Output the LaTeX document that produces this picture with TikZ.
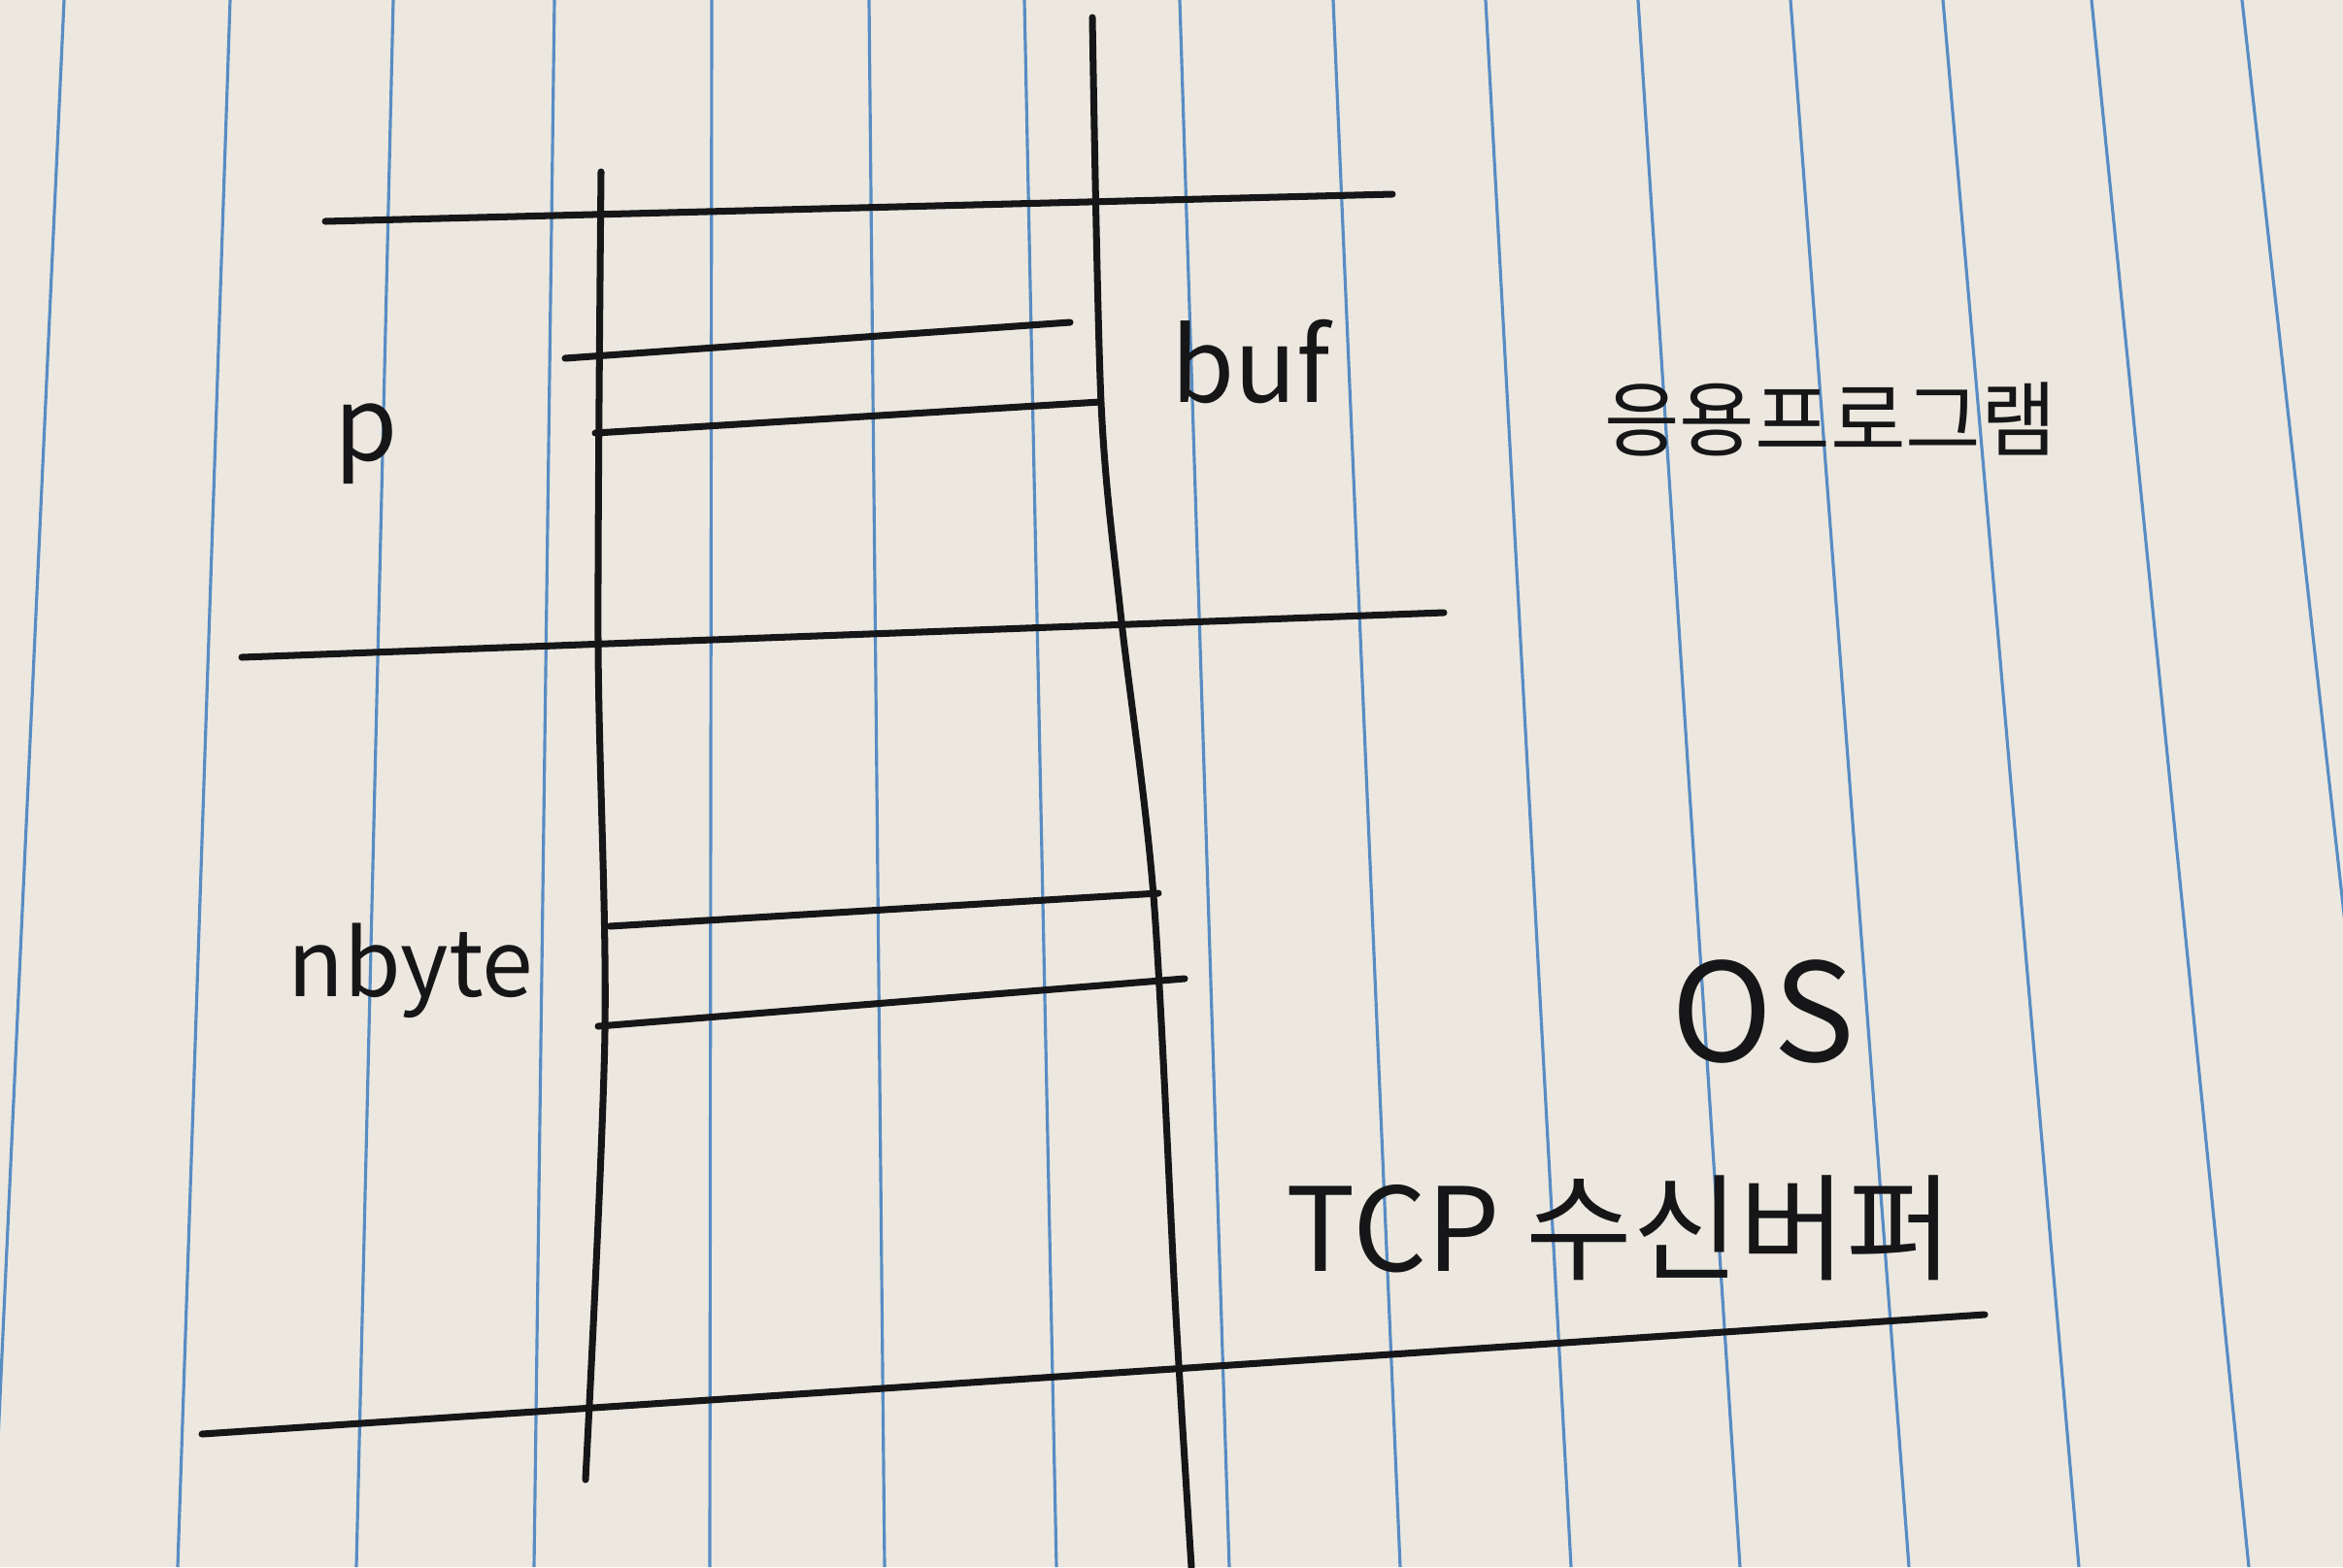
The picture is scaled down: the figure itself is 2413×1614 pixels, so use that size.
\documentclass[tikz,border=0pt]{standalone}
\usepackage{fontspec}
\newfontfamily\krfont{Noto Sans CJK KR}
\definecolor{paper}{RGB}{236,232,223}
\definecolor{ruleblue}{RGB}{88,140,196}
\definecolor{ink}{RGB}{22,22,24}
\tikzstyle{pen} = [draw=ink, line width=2pt, line cap=round, line join=round]
\tikzstyle{ruling} = [draw=ruleblue, line width=0.9pt]
\tikzstyle{hand} = [text=ink, inner sep=0pt, font=\krfont\fontsize{30}{36}\selectfont]
\tikzstyle{handbig} = [hand, font=\krfont\fontsize{40}{48}\selectfont]
\tikzstyle{handsmall} = [hand, font=\krfont\fontsize{24}{30}\selectfont]

\begin{document}
\begin{tikzpicture}[x=0.1mm, y=-0.1mm]

  \fill[paper] (0,0) rectangle (2413,1614);
  \useasboundingbox (0,0) rectangle (2413,1614);
  \clip (0,0) rectangle (2413,1614);

  \foreach \xt/\xb in {66/-8, 237/183, 405/367, 571/550, 733/731, 895/911,
    1055/1088, 1215/1266, 1373/1442, 1530/1618, 1687/1792, 1844/1966,
    2001/2141, 2154/2316, 2309/2489}
    \draw[ruling] (\xt,0) -- (\xb,1614);

  \draw[pen] (335,228) -- (1434,200);
  \draw[pen] (249,677) -- (1487,631);
  \draw[pen] (208,1477) -- (2044,1354);

  \draw[pen] plot[smooth] coordinates {(619,177) (616,662) (623,1062) (603,1524)};
  \draw[pen] plot[smooth] coordinates {(1125,18) (1134,415) (1154,631) (1188,923) (1211,1354) (1227,1614)};

  \draw[pen] (582,369) -- (1102,332);
  \draw[pen] (613,446) -- (1133,414);
  \draw[pen] (628,954) -- (1193,920);
  \draw[pen] (616,1057) -- (1220,1008);

  \node[hand] (p) at (377,457) {p};
  \node[hand] (buf) at (1288,373) {buf};
  \node[handsmall] (app) at (1885,432) {응용프로그램};
  \node[hand, font=\krfont\fontsize{27}{32}\selectfont] (nbyte) at (423,1000) {nbyte};
  \node[handbig] (os) at (1816,1042) {OS};
  \node[hand, font=\krfont\fontsize{34}{40}\selectfont] (tcpbuf) at (1668,1265) {TCP 수신버퍼};

\end{tikzpicture}
\end{document}
